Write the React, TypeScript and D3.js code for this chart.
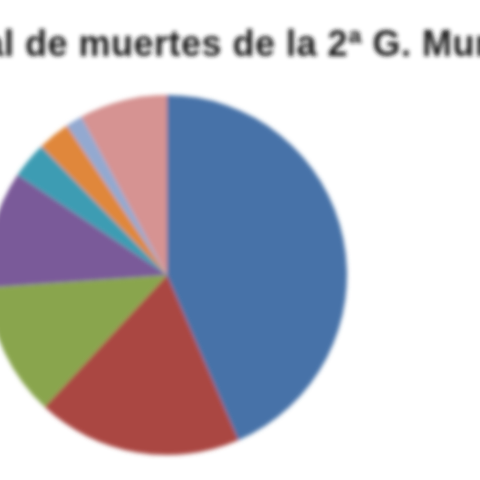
import * as d3 from "d3";
import { useEffect, useRef } from "react";

const PAISES = [
  "Unión Soviética",
  "China",
  "Alemania",
  "Polonia",
  "Japón",
  "Yugoslavia",
  "Francia",
  "Otros",
];
const PORCENTAJES = [43.5, 18.4, 12.0, 10.5, 3.3, 2.9, 1.5, 7.9];
const COLORES = [
  "#4672a8",
  "#aa4643",
  "#89a54e",
  "#7a5a99",
  "#3d9cb3",
  "#e0873a",
  "#93a9d0",
  "#d69392",
];
const TITULO_PREFIJO = "Total ";
const TITULO_RESTO = "de muertes de la 2ª G. Mundial";

const W = 480;
const H = 480;

export default function App() {
  const svgRef = useRef<SVGSVGElement>(null);

  useEffect(() => {
    document.body.style.margin = "0";
    const svg = d3.select(svgRef.current);
    svg.selectAll("*").remove();

    const defs = svg.append("defs");
    defs
      .append("filter")
      .attr("id", "blur")
      .attr("x", "-10%")
      .attr("y", "-10%")
      .attr("width", "120%")
      .attr("height", "120%")
      .append("feGaussianBlur")
      .attr("stdDeviation", 2);

    const root = svg.append("g").attr("filter", "url(#blur)");

    // title, cropped on both sides like the source
    const font = "'Liberation Sans', Arial, sans-serif";
    const titleAttrs = (t: d3.Selection<SVGTextElement, unknown, null, undefined>) =>
      t
        .attr("font-size", 36)
        .attr("font-weight", "bold")
        .attr("font-family", font)
        .attr("letter-spacing", 0.5)
        .attr("xml:space", "preserve");

    const probe = root.append("text").call(titleAttrs).text(TITULO_PREFIJO);
    const prefixW = (probe.node() as SVGTextElement).getComputedTextLength();
    probe.remove();

    root
      .append("text")
      .call(titleAttrs)
      .attr("x", 25 - prefixW)
      .attr("y", 56)
      .attr("fill", "#1a1a1a")
      .text(TITULO_PREFIJO + TITULO_RESTO);

    const data = PAISES.map((p, i) => ({ pais: p, valor: PORCENTAJES[i] }));
    const pie = d3
      .pie<{ pais: string; valor: number }>()
      .value((d) => d.valor)
      .sort(null);
    const arc = d3
      .arc<d3.PieArcDatum<{ pais: string; valor: number }>>()
      .innerRadius(0)
      .outerRadius(180);

    const color = d3.scaleOrdinal<string, string>().domain(PAISES).range(COLORES);

    root
      .append("g")
      .attr("transform", "translate(167,275)")
      .selectAll("path")
      .data(pie(data))
      .join("path")
      .attr("fill", (d) => color(d.data.pais))
      .attr("d", arc);
  }, []);

  return (
    <svg
      ref={svgRef}
      width={W}
      height={H}
      style={{ display: "block", background: "#fff" }}
    />
  );
}
